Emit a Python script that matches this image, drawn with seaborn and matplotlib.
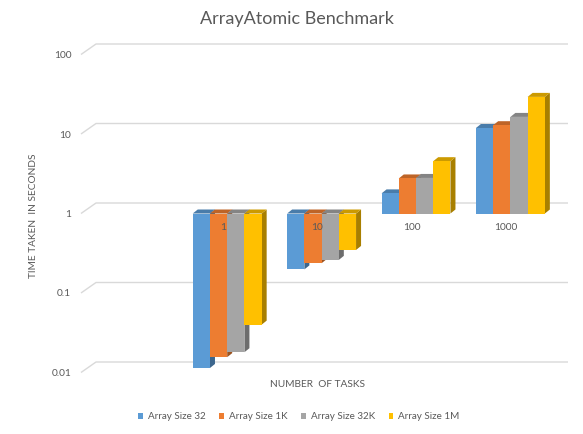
import numpy as np
import pandas as pd
import matplotlib
matplotlib.use("Agg")
import matplotlib.pyplot as plt
import matplotlib.colors as mcolors
from matplotlib.patches import Polygon, Patch
from matplotlib.ticker import FixedLocator, FuncFormatter
from matplotlib.transforms import ScaledTranslation
import seaborn as sns

# Benchmark results (seconds) per number of tasks, one list per array size
tasks = ["1", "10", "100", "1000"]
series = ["Array Size 32", "Array Size 1K", "Array Size 32K", "Array Size 1M"]
size_32 = [0.0114, 0.198, 1.79, 11.9]
size_1k = [0.0156, 0.237, 2.76, 12.9]
size_32k = [0.018, 0.261, 2.80, 16.4]
size_1m = [0.040, 0.348, 4.55, 29.3]
y_ticks = [0.01, 0.1, 1, 10, 100]
y_tick_labels = ["0.01", "0.1", "1", "10", "100"]
colors = ["#5B9BD5", "#ED7D31", "#A5A5A5", "#FFC000"]

TEXT = "#595959"
GRID = "#D9D9D9"

sns.set_theme(style="white")
plt.rcParams["font.family"] = ["Lato", "DejaVu Sans"]

df = pd.DataFrame({
    "tasks": np.tile(tasks, len(series)),
    "series": np.repeat(series, len(tasks)),
    "seconds": np.concatenate([size_32, size_1k, size_32k, size_1m]),
})
# Bars hang from 1 second: draw in log10 space so the baseline is 0
df["log_seconds"] = np.log10(df["seconds"])

W, H = 583, 434
fig = plt.figure(figsize=(W / 100, H / 100), dpi=100)
left, right, top, bottom = 81, 568, 40, 380
ax = fig.add_axes([left / W, 1 - bottom / H, (right - left) / W, (bottom - top) / H])

sns.barplot(data=df, x="tasks", y="log_seconds", hue="series",
            order=tasks, hue_order=series, palette=colors, saturation=1,
            width=0.73, errorbar=None, linewidth=0, legend=False,
            zorder=2, ax=ax)

# axis limits: one decade ~79.5 px, category pitch ~94.4 px
base_y = 213.5
decade = 79.5
pitch = 94.4
first_center = 227.2
ax.set_ylim(-(bottom - base_y) / decade, (base_y - top) / decade)
ax.set_xlim((left - first_center) / pitch, (right - first_center) / pitch)

fig.canvas.draw()
to_data = ax.transData.inverted()
origin = ax.transData.transform((0, 0))


def px_to_data(dx_px, dy_px):
    p = to_data.transform(origin + np.array([dx_px, dy_px]))
    return p[0], p[1]


# back-wall gridlines with the diagonal floor step on the left
gx, gy = px_to_data(15, 10.5)
xmin, xmax = ax.get_xlim()
for v in y_ticks:
    k = np.log10(v)
    ax.plot([xmin, xmin + gx, xmax], [k, k + gy, k + gy], color=GRID,
            lw=1.0, zorder=0.5, solid_capstyle="butt", clip_on=False)

# 3D depth on each bar: darker right side and top cap
bx, by = px_to_data(5, 4)
for patch in list(ax.patches):
    x0 = patch.get_x()
    x1 = x0 + patch.get_width()
    y0 = patch.get_y()
    y1 = y0 + patch.get_height()
    lo, hi = min(y0, y1), max(y0, y1)
    rgb = np.array(mcolors.to_rgb(patch.get_facecolor()))
    side = Polygon([(x1, lo), (x1 + bx, lo + by), (x1 + bx, hi + by), (x1, hi)],
                   closed=True, facecolor=rgb * 0.66, edgecolor="none", zorder=1.5)
    cap = Polygon([(x0, hi), (x0 + bx, hi + by), (x1 + bx, hi + by), (x1, hi)],
                  closed=True, facecolor=rgb * 0.8, edgecolor="none", zorder=1.5)
    ax.add_patch(side)
    ax.add_patch(cap)

# y axis: log labels
ax.yaxis.set_major_locator(FixedLocator(np.log10(y_ticks)))
ax.yaxis.set_major_formatter(FuncFormatter(
    lambda val, pos: y_tick_labels[int(round(val)) + 2]))
ax.tick_params(axis="y", length=0, pad=7, labelsize=7.3, labelcolor=TEXT)

# category axis crosses the value axis at 1 second
ax.spines["bottom"].set_position(("data", 0))
ax.tick_params(axis="x", length=0, pad=7, labelsize=7.3, labelcolor=TEXT)
ax.set_axisbelow(False)
for s in ax.spines.values():
    s.set_visible(False)

ax.set_xlabel("NUMBER  OF TASKS", fontsize=7.3, color=TEXT)
ax.xaxis.set_label_coords((317.5 - left) / (right - left),
                          (bottom - 384.5) / (bottom - top))
ax.xaxis.label.set_va("center")
ax.set_ylabel("TIME TAKEN  IN SECONDS", fontsize=7.3, color=TEXT)
ax.yaxis.set_label_coords((34 - left) / (right - left),
                          (bottom - 216) / (bottom - top))
ax.yaxis.label.set_va("center")

fig.text(296.5 / W, 1 - 19 / H, "ArrayAtomic Benchmark", ha="center",
         va="center", fontsize=13, color=TEXT)

handles = [Patch(facecolor=c, edgecolor="none") for c in colors]
fig.legend(handles, series, loc="center", bbox_to_anchor=(299 / W, 1 - 416.7 / H),
           ncol=4, frameon=False, fontsize=7.1, labelcolor=TEXT,
           handlelength=0.5, handleheight=0.5, handletextpad=0.5,
           columnspacing=1.35)

# category labels sit a little left of the cluster centres (perspective)
shift = ScaledTranslation(-4.5 / 100, 0, fig.dpi_scale_trans)
for tick in ax.xaxis.get_major_ticks():
    tick.label1.set_transform(tick.label1.get_transform() + shift)

fig.savefig("out.png", dpi=100, facecolor="white")
